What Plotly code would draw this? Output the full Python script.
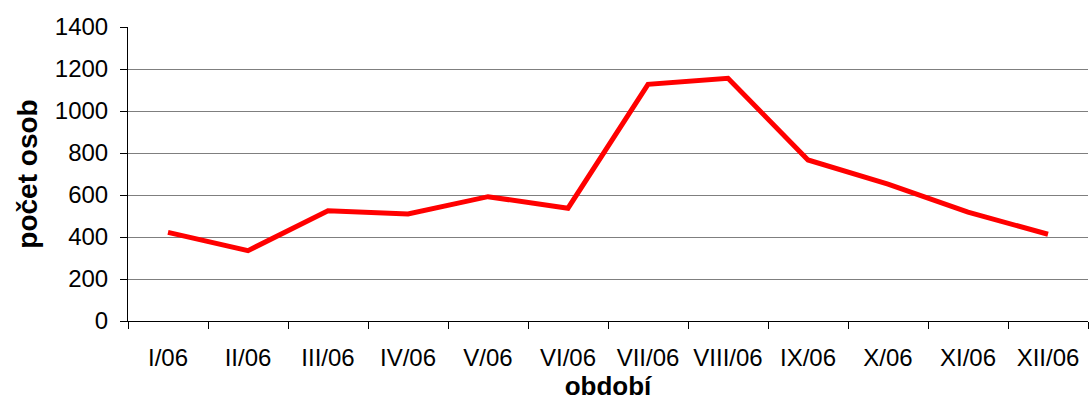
import plotly.graph_objects as go

categories = ["I/06", "II/06", "III/06", "IV/06", "V/06", "VI/06",
              "VII/06", "VIII/06", "IX/06", "X/06", "XI/06", "XII/06"]
values = [422, 335, 525, 510, 592, 537, 1127, 1156, 767, 652, 518, 413]
y_ticks = [0, 200, 400, 600, 800, 1000, 1200, 1400]

fig = go.Figure()
fig.add_trace(go.Scatter(x=categories, y=values, mode="lines",
                         line=dict(color="#FF0000", width=5), showlegend=False))

font = "Liberation Sans, Arial, sans-serif"
fig.update_layout(
    width=1090, height=415,
    margin=dict(l=128, r=2, t=27, b=94),
    paper_bgcolor="white", plot_bgcolor="white",
    font=dict(family=font, size=24, color="black"),
    xaxis=dict(
        type="category", range=[-0.5, 11.5], tickson="boundaries",
        ticks="outside", ticklen=7, tickcolor="black", tickwidth=1,
        showline=True, linecolor="black", linewidth=1, showgrid=False,
        tickfont=dict(size=24), ticklabelstandoff=15,
        title=dict(text="<b>období</b>", font=dict(size=26), standoff=6),
    ),
    yaxis=dict(
        range=[0, 1400], tickvals=y_ticks, ticks="outside", ticklen=7,
        tickcolor="black", tickwidth=1,
        showline=True, linecolor="black", linewidth=1,
        showgrid=True, gridcolor="#7f7f7f", gridwidth=1, zeroline=False,
        tickfont=dict(size=24), ticklabelstandoff=7,
        title=dict(text="<b>počet osob</b>", font=dict(size=28), standoff=9),
    ),
)
fig.write_html("out.html", config={"displayModeBar": False},
               post_script="document.body.style.margin='0';document.body.style.overflow='hidden';")
